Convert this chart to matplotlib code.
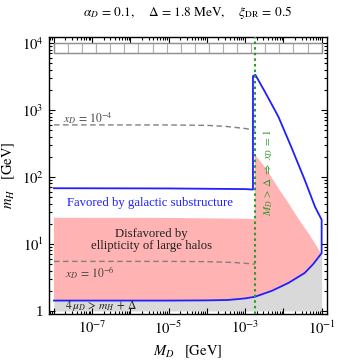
import numpy as np
import matplotlib
matplotlib.use("Agg")
import matplotlib.pyplot as plt
from matplotlib.patches import Rectangle
from matplotlib.ticker import LogLocator, NullFormatter, FixedLocator, FixedFormatter

plt.rcParams['font.family'] = ['Liberation Serif', 'DejaVu Serif']
plt.rcParams['mathtext.fontset'] = 'stix'

delta = 1.8e-3  # GeV

# lower boundary (4 mu_D = m_H + Delta), shared by favored / disfavored / gray regions
low_x = [1e-8, 1e-6, 1e-5, 1e-4, 3.6e-4, 1e-3, 1.8e-3, 5e-3, 1.35e-2, 3.6e-2, 6e-2, 1e-1]
low_y = [1.43, 1.43, 1.43, 1.44, 1.46, 1.54, 1.63, 2.0, 2.62, 3.69, 5.0, 7.3]

# pink region top edge (ellipticity of large halos)
pink_left_x = [1e-8, 1e-5, 1e-3, 1.8e-3]
pink_left_y = [24.6, 24.5, 23.8, 23.5]
pink_right_x = [1.8e-3, 2.0e-3, 3.3e-3, 7.4e-3, 1.35e-2, 2.45e-2, 4.5e-2, 6.7e-2, 9.1e-2, 1e-1]
pink_right_y = [210, 200, 141, 68, 41, 24, 14.5, 10.2, 7.6, 7.3]

# favored region (galactic substructure) outline, upper part
fav_top_x = [1e-8, 1e-5, 1e-3, 1.6e-3, 1.6e-3, 1.85e-3, 3.3e-3, 7.4e-3, 1.6e-2, 3.6e-2, 6.7e-2, 1e-1, 1e-1]
fav_top_y = [68, 67.5, 66, 65, 3200, 3350, 1862, 794, 282, 91, 36, 23, 7.3]

# x_D contours
xd4_x = [1e-8, 1e-5, 1e-4, 3e-4, 1e-3, 1.8e-3]
xd4_y = [600, 598, 590, 570, 530, 500]
xd6_x = [1e-8, 1e-5, 1e-4, 5e-4, 1e-3, 1.8e-3]
xd6_y = [5.5, 5.5, 5.45, 5.3, 5.15, 5.0]

# top grid boxes
n_boxes = 19
box_lo, box_hi = 7.0e3, 1.0e4

fig = plt.figure(figsize=(3.37, 3.62), dpi=100)
ax = fig.add_axes([0.1454, 0.1326, 0.9703 - 0.1454, 0.8978 - 0.1326])
ax.set_xscale('log')
ax.set_yscale('log')
ax.set_xlim(10**-8.13, 10**-0.86)
ax.set_ylim(10**-0.045, 10**4.09)

blue = '#1f1fff'
pink = '#ffb3b3'
gray = '#d9d9d9'
green = '#2a9a2a'

# gray region
ax.fill_between(low_x, 1.0, low_y, color=gray, lw=0, zorder=1)

# pink region
px = low_x + pink_right_x[::-1] + pink_left_x[::-1]
py = low_y + pink_right_y[::-1] + pink_left_y[::-1]
ax.fill(px, py, color=pink, lw=0, zorder=2)

# favored outline
ox = fav_top_x + low_x[::-1]
oy = fav_top_y + low_y[::-1]
ax.plot(ox, oy, color=blue, lw=1.3, zorder=4)

# x_D contours
ax.plot(xd4_x, xd4_y, color='gray', ls=(0, (4, 2.5)), lw=1.0, zorder=3)
ax.plot(xd6_x, xd6_y, color='gray', ls=(0, (4, 2.5)), lw=1.0, zorder=3)

# top boxes
edges = np.logspace(-8, -1, n_boxes + 1)
for a, b in zip(edges[:-1], edges[1:]):
    ax.add_patch(Rectangle((a, box_lo), b - a, box_hi - box_lo, fc='white',
                           ec='#b0b0b0', lw=0.8, zorder=3))
ax.add_patch(Rectangle((1e-8, box_lo), 1e-1 - 1e-8, box_hi - box_lo, fc='none',
                       ec='#909090', lw=1.0, zorder=3))

# M_D = Delta
ax.axvline(delta, color=green, ls=(0, (1.2, 1.5)), lw=1.5, zorder=5)

fs = 9.2
ax.text(1.7e-8, 650, r'$x_D\, =\, 10^{-4}$', fontsize=8.5, color='#444444',
        va='baseline', ha='left', zorder=6)
ax.text(2.0e-8, 3.7, r'$x_D\, =\, 10^{-6}$', fontsize=8.5, color='#444444',
        va='center', ha='left', zorder=6)
ax.text(10**-5.5, 41, 'Favored by galactic substructure', fontsize=fs, color=blue,
        ha='center', va='center', zorder=6)
ax.text(10**-5.45, 11.5, 'Disfavored by\nellipticity of large halos', fontsize=fs,
        color='#222222', ha='center', va='center', multialignment='center',
        linespacing=1.05, zorder=6)
ax.text(2.0e-8, 1.08, r'$4\,\mu_D\, >\, m_H\, +\, \Delta$', fontsize=8.3,
        color='#222222', ha='left', va='baseline', zorder=6)
ax.text(4.0e-3, 118, r'$M_D\, >\, \Delta\ \Rightarrow\ x_D\, =\, 1$', fontsize=8,
        color=green, rotation=90, ha='center', va='center', zorder=6)

fig.text(0.558, 0.965, r'$\alpha_D\, =\, 0.1,\quad\ \Delta\, =\, 1.8\ \mathrm{MeV},\quad\ \xi_{\rm DR}\, =\, 0.5$',
         ha='center', va='center', fontsize=9.5)

# ticks
ax.xaxis.set_major_locator(FixedLocator([10.0**k for k in range(-8, 0)]))
ax.xaxis.set_major_formatter(FixedFormatter(['', r'$10^{-7}$', '', r'$10^{-5}$', '',
                                             r'$10^{-3}$', '', r'$10^{-1}$']))
ax.xaxis.set_minor_locator(LogLocator(base=10, subs=np.arange(2, 10), numticks=20))
ax.xaxis.set_minor_formatter(NullFormatter())
ax.yaxis.set_major_locator(FixedLocator([1, 10, 100, 1000, 10000]))
ax.yaxis.set_major_formatter(FixedFormatter(['1', r'$10^{1}$', r'$10^{2}$', r'$10^{3}$', r'$10^{4}$']))
ax.yaxis.set_minor_locator(LogLocator(base=10, subs=np.arange(2, 10), numticks=20))
ax.yaxis.set_minor_formatter(NullFormatter())
ax.tick_params(which='both', direction='in', top=True, right=True, labelsize=10.5, width=0.8)
ax.tick_params(which='major', length=4, pad=4)
ax.tick_params(which='minor', length=2)
for s in ax.spines.values():
    s.set_linewidth(1.0)

ax.set_xlabel(r'$M_D\quad [\mathrm{GeV}]$', fontsize=10.5, labelpad=5)
ax.set_ylabel(r'$m_H\quad [\mathrm{GeV}]$', fontsize=10.5, labelpad=3)

fig.savefig('out.png', dpi=100)
